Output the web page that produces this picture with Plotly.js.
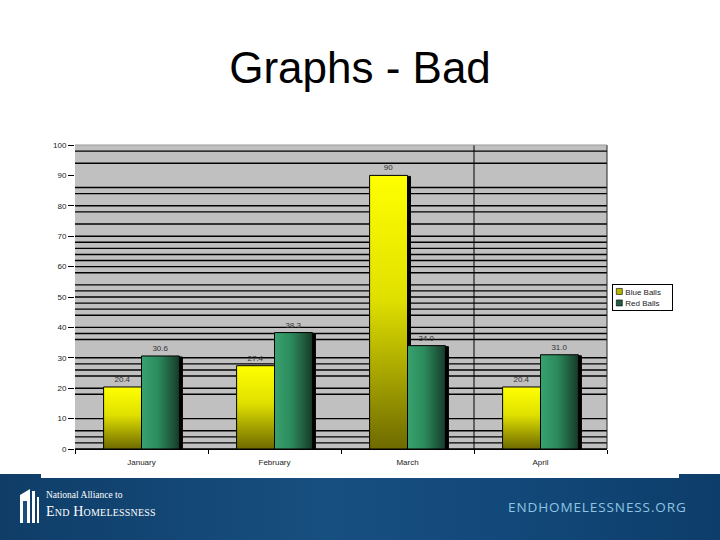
<!DOCTYPE html>
<html>
<head>
<meta charset="utf-8">
<script src="https://cdn.plot.ly/plotly-3.0.1.min.js"></script>
<style>
  html, body { margin:0; padding:0; background:#fff; }
  #wrap { position:relative; width:720px; height:540px; overflow:hidden; }
  #chart { position:absolute; left:0; top:0; width:720px; height:540px; }
  #footer { position:absolute; left:0; top:474px; width:720px; height:66px;
    background: linear-gradient(90deg, #0f3d68 0%, #174f80 45%, #12497a 70%, #0d3d6a 100%); }
  #footer .whitebox { position:absolute; left:41px; top:0; width:638px; height:4px; background:#fff; }
  #footer .org1 { position:absolute; left:46px; top:16px; font-family:"Liberation Serif","DejaVu Serif",serif; font-size:9.5px; color:#fff; }
  #footer .org2 { position:absolute; left:46px; top:30px; font-family:"Liberation Serif","DejaVu Serif",serif; font-size:14px; color:#fff; font-variant:small-caps; letter-spacing:0.2px; }
  #footer .url { position:absolute; left:508px; top:24px; font-family:"Open Sans","DejaVu Sans",sans-serif; font-size:13.5px; color:#8fc4e2; letter-spacing:0.9px; }
  #footer svg { position:absolute; left:18px; top:13px; }
</style>
</head>
<body>
<div id="wrap">
  <div id="chart"></div>
  <div id="footer">
    <div class="whitebox"></div>
    <svg width="28" height="38" viewBox="0 0 28 38">
      <path d="M2 8 L12 2 L12 36 L2 36 Z" fill="#fff"/>
      <rect x="14" y="4" width="3" height="32" fill="#fff"/>
      <rect x="19" y="10" width="2" height="26" fill="#fff"/>
      <rect x="5" y="14" width="4" height="22" fill="#174f80"/>
    </svg>
    <div class="org1">National Alliance to</div>
    <div class="org2">End Homelessness</div>
    <div class="url">ENDHOMELESSNESS.ORG</div>
  </div>
</div>
<script>
// ---- data ----
const months = ["January", "February", "March", "April"];
const blueBalls = [20.4, 27.4, 90, 20.4];
const redBalls = [30.6, 38.3, 34.0, 31.0];
const yTicks = [0, 10, 20, 30, 40, 50, 60, 70, 80, 90, 100];
const gridValues = [0, 2, 4, 6, 10, 18, 20, 24, 26, 28, 30, 36, 38, 40, 44, 46, 48, 50, 52, 54,
                    58, 60, 62, 64, 66, 68, 70, 74, 78, 80, 84, 86, 94, 98];
const dividerCategoryGap = [2.5];

const traces = [
  { type: "bar", name: "Blue Balls", x: months, y: blueBalls,
    marker: { color: "#b8b800", line: { color: "#000", width: 1 } },
    text: blueBalls.map(v => String(v)), textposition: "outside", cliponaxis: false,
    textfont: { family: "Liberation Sans, Arial, sans-serif", size: 8, color: "#333" } },
  { type: "bar", name: "Red Balls", x: months, y: redBalls,
    marker: { color: "#245c40", line: { color: "#000", width: 1 } },
    text: redBalls.map(v => v.toFixed(1)), textposition: "outside", cliponaxis: false,
    textfont: { family: "Liberation Sans, Arial, sans-serif", size: 8, color: "#333" } }
];

const shapes = [];
gridValues.forEach(v => shapes.push({ type: "line", xref: "paper", yref: "y", x0: 0, x1: 1, y0: v, y1: v,
  line: { color: "#000", width: 1.4 }, layer: "below" }));
dividerCategoryGap.forEach(v => shapes.push({ type: "line", xref: "x", yref: "paper", x0: v, x1: v, y0: 0, y1: 1,
  line: { color: "#000", width: 1 }, layer: "below" }));
shapes.push({ type: "line", xref: "paper", yref: "paper", x0: 1, x1: 1, y0: 0, y1: 1,
  line: { color: "#222", width: 1 }, layer: "below" });
shapes.push({ type: "line", xref: "paper", yref: "paper", x0: 0, x1: 1, y0: 1, y1: 1,
  line: { color: "#999", width: 1 }, layer: "below" });

const layout = {
  width: 720, height: 540,
  margin: { l: 75, r: 113, t: 145, b: 91 },
  paper_bgcolor: "#fff", plot_bgcolor: "#c0c0c0",
  title: { text: "Graphs - Bad", font: { family: "Liberation Sans, Arial, sans-serif", size: 44, color: "#000" },
    x: 0.5, xref: "container", y: 1 - 68 / 540, yref: "container", yanchor: "middle" },
  bargap: 0.43, bargroupgap: 0,
  showlegend: true,
  legend: { x: 1.01, y: 0.543, xanchor: "left", yanchor: "top", bgcolor: "#fff", bordercolor: "#000", borderwidth: 1,
    font: { family: "Liberation Sans, Arial, sans-serif", size: 8, color: "#222" }, itemwidth: 30 },
  xaxis: { type: "category", showgrid: false, zeroline: false, showline: true, linecolor: "#000", linewidth: 1,
    ticks: "outside", tickson: "boundaries", ticklen: 4, tickcolor: "#000", ticklabelstandoff: 5,
    tickfont: { family: "Liberation Sans, Arial, sans-serif", size: 8, color: "#222" } },
  yaxis: { range: [0, 100], tickvals: yTicks, showgrid: false, zeroline: false, showline: false,
    ticks: "outside", ticklen: 6, tickcolor: "#000",
    tickfont: { family: "Liberation Sans, Arial, sans-serif", size: 8, color: "#222" } },
  shapes: shapes
};

Plotly.newPlot("chart", traces, layout, { displayModeBar: false, staticPlot: true }).then(gd => {
  const svg = gd.querySelector("svg.main-svg");
  const NS = "http://www.w3.org/2000/svg";
  let defs = svg.querySelector("defs");
  if (!defs) { defs = document.createElementNS(NS, "defs"); svg.insertBefore(defs, svg.firstChild); }
  function grad(id, x2, y2, stops) {
    const g = document.createElementNS(NS, "linearGradient");
    g.setAttribute("id", id);
    g.setAttribute("x1", "0"); g.setAttribute("y1", "0");
    g.setAttribute("x2", x2); g.setAttribute("y2", y2);
    stops.forEach(s => {
      const st = document.createElementNS(NS, "stop");
      st.setAttribute("offset", s[0]); st.setAttribute("stop-color", s[1]);
      g.appendChild(st);
    });
    defs.appendChild(g);
  }
  grad("gYellow", "0", "1", [["0", "#ffff00"], ["0.45", "#e0e000"], ["1", "#6e6a00"]]);
  grad("gGreen", "1", "0", [["0", "#38a26e"], ["0.45", "#2b8a5c"], ["1", "#173a29"]]);
  const tr = gd.querySelectorAll(".barlayer .trace");
  const fills = ["url(#gYellow)", "url(#gGreen)"];
  tr.forEach((t, i) => {
    t.querySelectorAll(".point path").forEach(p => {
      p.style.fill = fills[i];
      p.style.filter = "drop-shadow(3px 1px 0 #000)";
    });
  });

  // compact the legend to match the small Excel-style legend box
  try {
    const leg = gd.querySelector("g.legend");
    const bg = leg.querySelector("rect.bg");
    bg.setAttribute("width", 60); bg.setAttribute("height", 26);
    leg.querySelectorAll("g.traces").forEach((g, i) => {
      g.setAttribute("transform", "translate(1," + (7.5 + i * 11.5) + ")");
      g.querySelectorAll(".legendpoints path").forEach(p => {
        p.setAttribute("d", "M3,3H-3V-3H3Z");
        p.setAttribute("transform", "translate(6,0)");
        p.style.strokeWidth = "0.6px";
      });
      const txt = g.querySelector("text.legendtext");
      if (txt) txt.setAttribute("x", 12);
      const tog = g.querySelector("rect.legendtoggle");
      if (tog) tog.setAttribute("width", 58);
    });
    const clip = gd.querySelectorAll("clipPath[id*='legend'] rect");
    clip.forEach(r => { r.setAttribute("width", 60); r.setAttribute("height", 26); });
  } catch (e) {}
});
</script>
</body>
</html>
